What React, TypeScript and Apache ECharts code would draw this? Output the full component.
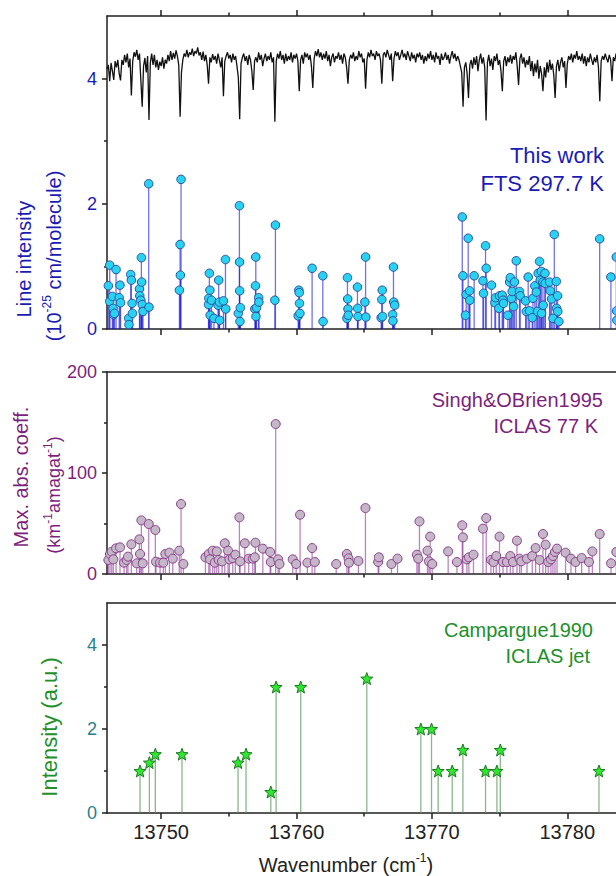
import React, { useEffect, useRef } from "react";
import * as echarts from "echarts";

// Wavenumber axis shared by the three panels (cm-1)
const WN_MIN = 13746;
const WN_MAX = 13785;
const wnMajorTicks = [13750, 13760, 13770, 13780];
const wnMinorTicks = [13755, 13765, 13775];

const ftsMajorTicks = [0, 2, 4];
const ftsMinorTicks = [1, 3];
const singhMajorTicks = [0, 100, 200];
const singhMinorTicks = [50, 150];
const jetMajorTicks = [0, 2, 4];
const jetMinorTicks = [1, 3];

// FTS spectrum (offset trace), sampled every 0.1 cm-1 from traceStart
const traceStart = 13746.0;
const traceStep = 0.1;
const traceValues = [
  4.15, 4.22, 3.96, 4.25, 4.12, 3.98, 4.28, 4.18, 4.30, 4.08,
  3.97, 4.30, 4.22, 4.38, 4.26, 4.40, 4.18, 4.32, 3.73, 4.28,
  4.42, 4.35, 4.46, 4.30, 4.40, 3.98, 3.55, 4.20, 4.33, 4.10,
  4.36, 3.34, 4.25, 4.40, 4.22, 4.38, 4.18, 4.30, 4.14, 4.27,
  4.20, 4.34, 4.16, 4.30, 4.24, 4.38, 4.28, 4.44, 4.30, 4.41,
  4.32, 4.45, 4.36, 4.22, 3.39, 4.10, 4.30, 4.40, 4.35, 4.46,
  4.34, 4.42, 4.38, 4.48, 4.36, 4.44, 4.40, 4.50, 4.37, 4.42,
  4.30, 4.43, 4.28, 4.38, 4.22, 3.92, 4.34, 4.26, 4.39, 4.30,
  4.36, 4.24, 4.40, 4.30, 4.18, 4.34, 3.72, 4.28, 4.36, 4.42,
  4.32, 4.38, 4.26, 4.40, 4.30, 4.36, 4.20, 4.02, 3.35, 4.24,
  4.34, 4.40, 4.28, 4.36, 4.22, 4.38, 4.30, 4.12, 3.82, 4.28,
  4.34, 4.26, 4.42, 4.30, 4.38, 4.20, 4.32, 4.40, 4.28, 4.36,
  4.30, 4.42, 4.26, 4.34, 3.31, 4.28, 4.40, 4.32, 4.44, 4.30,
  4.38, 4.24, 4.40, 4.28, 4.36, 4.30, 4.42, 4.26, 4.38, 4.32,
  4.40, 4.28, 3.80, 4.30, 4.38, 4.24, 4.42, 4.34, 4.40, 4.30,
  4.38, 4.20, 3.85, 4.32, 4.44, 4.36, 4.47, 4.34, 4.42, 4.30,
  4.40, 4.32, 4.44, 4.28, 4.38, 4.20, 4.34, 4.40, 4.26, 4.36,
  4.32, 4.42, 4.30, 4.38, 4.24, 4.40, 4.34, 4.18, 3.92, 4.30,
  4.38, 4.32, 4.42, 4.28, 4.36, 4.30, 4.44, 4.34, 4.40, 4.26,
  4.32, 3.84, 4.30, 4.42, 4.34, 4.46, 4.36, 4.40, 4.30, 4.44,
  4.36, 4.40, 4.30, 3.92, 4.38, 4.42, 4.34, 4.46, 4.38, 4.30,
  4.40, 3.96, 4.32, 4.44, 4.36, 4.42, 4.30, 4.38, 4.46, 4.34,
  4.40, 4.30, 4.44, 4.36, 4.28, 4.42, 4.32, 4.38, 4.26, 4.40,
  4.34, 4.42, 4.30, 4.38, 4.24, 4.36, 4.28, 4.40, 4.32, 4.44,
  4.30, 4.38, 4.26, 4.42, 4.32, 4.36, 4.22, 4.40, 4.30, 4.34,
  4.42, 4.30, 4.38, 4.24, 4.36, 4.44, 4.32, 4.40, 4.28, 4.36,
  4.30, 4.20, 4.10, 3.55, 4.18, 4.26, 4.08, 3.69, 4.22, 4.30,
  4.16, 4.34, 4.22, 4.36, 4.12, 4.30, 4.40, 4.24, 4.34, 4.18,
  3.33, 4.26, 4.38, 4.20, 4.32, 4.14, 4.36, 4.28, 4.40, 4.22,
  4.30, 4.12, 3.80, 4.28, 4.36, 4.20, 4.34, 4.26, 4.38, 4.24,
  4.36, 4.30, 4.42, 4.20, 3.90, 4.32, 4.40, 4.24, 4.34, 4.18,
  4.30, 4.22, 4.36, 4.12, 4.28, 4.04, 4.24, 4.10, 4.30, 4.00,
  4.20, 4.08, 3.80, 4.18, 4.02, 4.26, 4.10, 4.30, 4.14, 4.24,
  4.06, 3.69, 4.20, 4.30, 4.12, 4.26, 4.34, 4.18, 4.28, 3.85,
  4.24, 4.36, 4.30, 4.40, 4.26, 4.38, 4.32, 4.44, 4.30, 4.36,
  4.28, 4.40, 4.24, 4.36, 4.20, 4.34, 4.26, 4.40, 4.30, 4.22,
  4.34, 4.26, 4.38, 4.18, 3.64, 4.28, 4.36, 4.30, 4.40, 4.32,
  4.26, 4.38, 4.30, 3.96, 4.34, 4.28, 4.40, 4.32, 4.36, 4.26,
];

// This work: FTS line list at 297.7 K (10^-25 cm/molecule)
const ftsWavenumbers = [
  13746.10, 13746.20, 13746.20, 13746.40, 13746.45, 13746.50, 13746.55, 13746.67, 13746.90, 13746.96,
  13747.00, 13747.60, 13747.62, 13747.75, 13747.80, 13747.85, 13747.88, 13748.40, 13748.42, 13748.50,
  13748.54, 13748.56, 13748.60, 13748.66, 13749.08, 13749.10, 13751.35, 13751.40, 13751.42, 13751.47,
  13753.50, 13753.52, 13753.56, 13753.60, 13753.62, 13753.72, 13753.90, 13754.20, 13754.25, 13754.30,
  13754.32, 13754.60, 13754.75, 13754.77, 13755.70, 13755.78, 13755.79, 13755.80, 13755.82, 13755.85,
  13756.92, 13756.97, 13756.99, 13757.00, 13757.05, 13757.20, 13757.22, 13758.40, 13758.44, 13760.12,
  13760.17, 13760.20, 13760.22, 13760.25, 13761.15, 13761.94, 13761.96, 13763.72, 13763.76, 13763.78,
  13763.80, 13763.82, 13764.50, 13764.52, 13764.54, 13765.05, 13765.10, 13765.12, 13766.25, 13766.30,
  13766.33, 13766.35, 13767.10, 13767.12, 13767.16, 13767.18, 13767.25,
  13772.24, 13772.29, 13772.48, 13772.53, 13772.68, 13772.78, 13772.80, 13773.12, 13773.77, 13773.81,
  13773.96, 13774.01, 13774.40, 13774.65, 13774.70, 13774.95, 13774.99, 13775.19, 13775.25, 13775.29,
  13775.61, 13775.74, 13775.79, 13775.88, 13775.93, 13776.03, 13776.10, 13776.23, 13776.47, 13776.52,
  13776.92, 13776.97, 13777.11, 13777.21, 13777.41, 13777.46, 13777.60, 13777.71, 13777.80, 13777.85,
  13777.95, 13778.00, 13778.08, 13778.10, 13778.20, 13778.22, 13778.35, 13778.37, 13778.69, 13778.74,
  13778.84, 13778.94, 13779.04, 13779.19, 13779.21, 13779.28, 13779.30, 13779.38, 13782.39, 13783.22,
  13783.62, 13783.64, 13783.66,
];
const ftsIntensities = [
  0.69, 1.02, 0.44, 0.52, 0.33, 0.23, 0.25, 0.95, 0.50, 0.70,
  0.42, 0.17, 0.07, 0.87, 0.78, 0.41, 0.25, 0.64, 0.53, 0.46,
  1.14, 0.75, 0.39, 0.28, 2.32, 0.35, 0.62, 1.35, 0.86, 2.39,
  0.39, 0.49, 0.89, 0.62, 0.22, 0.46, 0.17, 0.38, 0.78, 0.43,
  0.14, 0.45, 1.11, 0.32, 0.25, 1.97, 1.07, 0.61, 0.12, 0.34,
  0.32, 0.69, 1.15, 0.20, 0.34, 0.50, 0.43, 0.46, 1.66, 0.21,
  0.62, 0.58, 0.41, 0.25, 0.97, 0.85, 0.12, 0.17, 0.82, 0.48,
  0.32, 0.22, 0.67, 0.33, 0.20, 0.43, 1.15, 0.19, 0.18, 0.47,
  0.62, 0.20, 0.23, 0.13, 0.99, 0.43, 0.38,
  1.79, 0.85, 0.22, 0.55, 1.45, 0.61, 0.46, 0.85, 0.77, 0.57,
  1.33, 0.97, 0.70, 0.42, 0.50, 0.33, 0.53, 0.54, 0.46, 0.41,
  0.22, 0.75, 0.82, 0.49, 0.60, 0.36, 0.75, 1.09, 0.60, 0.53,
  0.45, 0.28, 0.83, 0.29, 0.18, 0.49, 0.69, 0.59, 0.28, 0.89,
  1.08, 0.78, 0.92, 0.25, 0.75, 0.38, 0.89, 0.73, 0.75, 0.61,
  0.48, 0.17, 1.51, 0.76, 0.33, 0.53, 0.28, 0.12, 1.44, 0.83,
  1.15, 0.29, 0.14,
];

// Singh & O'Brien 1995: ICLAS at 77 K (km-1 amagat-1)
const singhWavenumbers = [
  13746.10, 13746.22, 13746.35, 13746.47, 13746.67, 13746.96, 13747.26, 13747.45, 13747.55, 13747.80,
  13748.19, 13748.39, 13748.44, 13748.54, 13748.64, 13749.08, 13749.57, 13749.62, 13749.92, 13750.16,
  13750.31, 13750.61, 13750.86, 13751.34, 13751.47, 13751.64, 13753.27, 13753.52, 13753.61, 13753.81,
  13753.96, 13754.11, 13754.25, 13754.50, 13754.70, 13754.94, 13755.04, 13755.29, 13755.48, 13755.78,
  13755.83, 13756.18, 13756.47, 13756.77, 13756.92, 13756.96, 13757.51, 13758.05, 13758.10, 13758.46,
  13758.64, 13758.74, 13759.72, 13759.97, 13760.26, 13760.80, 13761.15, 13761.35, 13762.93, 13763.72,
  13763.84, 13763.87, 13764.57, 13765.09, 13766.03, 13766.08, 13767.01, 13767.46, 13768.89, 13768.99,
  13769.08, 13769.67, 13769.78, 13769.87, 13770.02, 13771.20, 13771.85, 13772.24, 13772.29, 13772.58,
  13772.73, 13773.07, 13773.77, 13774.01, 13774.36, 13774.55, 13774.75, 13774.99, 13775.25, 13775.54,
  13775.79, 13775.99, 13776.28, 13776.47, 13776.60, 13777.02, 13777.41, 13777.66, 13777.95, 13778.20,
  13778.40, 13778.59, 13778.79, 13778.94, 13779.09, 13779.24, 13779.87, 13780.27, 13780.61, 13781.06,
  13781.60, 13781.85, 13782.39, 13783.23, 13783.62,
];
const singhCoefficients = [
  13.9, 19.8, 22.0, 14.5, 25.4, 26.4, 11.2, 13.9, 17.2, 29.4,
  10.6, 34.3, 19.8, 53.1, 10.6, 49.5, 43.6, 12.2, 11.2, 11.2,
  19.8, 21.1, 15.2, 23.1, 69.3, 9.9, 16.5, 19.8, 14.5, 23.1,
  11.2, 22.4, 13.9, 12.5, 30.4, 23.1, 14.5, 15.8, 19.1, 56.1,
  12.5, 30.4, 15.2, 15.2, 16.5, 31.0, 25.1, 21.8, 11.9, 148.5,
  14.5, 9.9, 14.5, 9.9, 58.7, 11.2, 25.7, 11.9, 9.9, 19.8,
  15.5, 11.2, 12.9, 65.3, 11.9, 16.5, 9.9, 15.2, 19.1, 15.2,
  52.1, 23.1, 12.5, 37.0, 9.9, 22.4, 11.9, 48.2, 36.3, 14.5,
  16.5, 19.1, 44.9, 55.4, 13.9, 11.9, 17.8, 37.0, 11.9, 11.9,
  17.8, 11.9, 33.0, 15.2, 12.5, 15.2, 17.8, 25.7, 13.9, 39.6,
  29.0, 11.9, 14.5, 17.8, 21.8, 25.1, 21.1, 15.2, 11.9, 15.8,
  11.9, 22.4, 39.6, 10.6, 21.8,
];

// Campargue 1990: ICLAS jet-cooled lines (a.u.)
const jetWavenumbers = [
  13748.44, 13749.13, 13749.57, 13751.54, 13755.68, 13756.27, 13758.10, 13758.49, 13760.31, 13765.19,
  13769.18, 13769.97, 13770.46, 13771.50, 13772.29, 13773.96, 13774.80, 13775.05, 13782.34,
];
const jetIntensities = [
  1.0, 1.2, 1.4, 1.4, 1.2, 1.4, 0.5, 3.0, 3.0, 3.2,
  2.0, 2.0, 1.0, 1.0, 1.5, 1.0, 1.0, 1.5, 1.0,
];

const FONT = '"Liberation Sans", Arial, Helvetica, sans-serif';
const AXIS_COLOR = "#1f1f1f";
const BLUE = "#1b1bb3";
const PURPLE = "#7d1f7d";
const GREEN = "#21902a";
const TEAL = "#2a7f8c";

const STAR =
  "path://M12,0.8 L14.9,8.6 L23.2,8.9 L16.7,14.1 L19,22.2 L12,17.5 L5,22.2 L7.3,14.1 L0.8,8.9 L9.1,8.6 Z";

const pairs = (xs: number[], ys: number[]) => xs.map((x, i) => [x, ys[i]]);

const stemRenderer = (color: string, width: number) => (_params: any, api: any) => {
  const x = api.value(0);
  const y = api.value(1);
  const base = api.coord([x, 0]);
  const top = api.coord([x, y]);
  return {
    type: "line",
    shape: { x1: base[0], y1: base[1], x2: top[0], y2: top[1] },
    style: { stroke: color, lineWidth: width },
  };
};

const axisLineStyle = { color: AXIS_COLOR, width: 1.5 };

const xAxisBase = {
  type: "value",
  min: WN_MIN,
  max: WN_MAX,
  splitLine: { show: false },
  axisLabel: { show: false },
  axisTick: { show: false },
  axisLine: { show: false, onZero: false },
};

function xAxesForGrid(gridIndex: number, withLabels: boolean, topTicks: boolean) {
  const axes: any[] = [
    {
      ...xAxisBase,
      gridIndex,
      position: "bottom",
      axisLine: { show: true, onZero: false, lineStyle: axisLineStyle },
      axisTick: { show: true, inside: false, length: 6, customValues: wnMajorTicks, lineStyle: axisLineStyle },
      axisLabel: withLabels
        ? {
            show: true,
            customValues: wnMajorTicks,
            formatter: (v: number) => String(v),
            fontFamily: FONT,
            fontSize: 20,
            color: "#222",
            margin: 9,
          }
        : { show: false },
    },
    {
      ...xAxisBase,
      gridIndex,
      position: "bottom",
      axisTick: { show: true, inside: false, length: 3.5, customValues: wnMinorTicks, lineStyle: axisLineStyle },
    },
    {
      ...xAxisBase,
      gridIndex,
      position: "top",
      axisLine: { show: true, onZero: false, lineStyle: axisLineStyle },
      axisTick: topTicks
        ? { show: true, inside: false, length: 6, customValues: wnMajorTicks, lineStyle: axisLineStyle }
        : { show: false },
    },
  ];
  if (topTicks) {
    axes.push({
      ...xAxisBase,
      gridIndex,
      position: "top",
      axisTick: { show: true, inside: false, length: 3.5, customValues: wnMinorTicks, lineStyle: axisLineStyle },
    });
  }
  return axes;
}

function yAxesForGrid(
  gridIndex: number,
  max: number,
  major: number[],
  minor: number[],
  labelColor: string,
  fontSize: number
) {
  return [
    {
      type: "value",
      gridIndex,
      position: "left",
      min: 0,
      max,
      splitLine: { show: false },
      axisLine: { show: true, onZero: false, lineStyle: axisLineStyle },
      axisTick: { show: true, inside: false, length: 5, customValues: major, lineStyle: axisLineStyle },
      axisLabel: {
        show: true,
        customValues: major,
        formatter: (v: number) => String(v),
        fontFamily: FONT,
        fontSize,
        color: labelColor,
        margin: 10,
      },
    },
    {
      type: "value",
      gridIndex,
      position: "left",
      min: 0,
      max,
      splitLine: { show: false },
      axisLine: { show: false, onZero: false },
      axisLabel: { show: false },
      axisTick: { show: true, inside: false, length: 3, customValues: minor, lineStyle: axisLineStyle },
    },
  ];
}

// Text with superscripts: every run carries its own size so nothing falls back to defaults.
function richLabel(
  x: number,
  y: number,
  text: string,
  color: string,
  fontSize: number,
  supSize: number,
  rotated: boolean
) {
  return {
    type: "text",
    x,
    y,
    rotation: rotated ? Math.PI / 2 : 0,
    style: {
      text,
      fill: color,
      fontFamily: FONT,
      fontSize,
      lineHeight: fontSize + 6,
      align: "center",
      verticalAlign: "middle",
      rich: {
        n: { fontSize, fontFamily: FONT, fill: color, lineHeight: fontSize + 6 },
        sup: { fontSize: supSize, fontFamily: FONT, fill: color, verticalAlign: "top", lineHeight: supSize },
      },
    },
  };
}

function noteText(right: number, y: number, text: string, color: string, fontSize: number) {
  return {
    type: "text",
    x: right,
    y,
    style: {
      text,
      fill: color,
      fontFamily: FONT,
      fontSize,
      align: "right",
      verticalAlign: "middle",
    },
  };
}

export default function App() {
  const ref = useRef<HTMLDivElement>(null);

  useEffect(() => {
    if (!ref.current) return;
    const chart = echarts.init(ref.current, null, { renderer: "svg" });

    const traceData = traceValues.map((v, i) => [
      Math.round((traceStart + i * traceStep) * 100) / 100,
      v,
    ]);
    const ftsData = pairs(ftsWavenumbers, ftsIntensities);
    const singhData = pairs(singhWavenumbers, singhCoefficients);
    const jetData = pairs(jetWavenumbers, jetIntensities);

    // x axes: grid 0 -> 0..3, grid 1 -> 4..6, grid 2 -> 7..9
    const xAxes = [
      ...xAxesForGrid(0, false, true),
      ...xAxesForGrid(1, false, false),
      ...xAxesForGrid(2, true, false),
    ];
    // y axes: grid 0 -> 0,1 ; grid 1 -> 2,3 ; grid 2 -> 4,5
    const yAxes = [
      ...yAxesForGrid(0, 5, ftsMajorTicks, ftsMinorTicks, BLUE, 18),
      ...yAxesForGrid(1, 200, singhMajorTicks, singhMinorTicks, PURPLE, 18),
      ...yAxesForGrid(2, 5, jetMajorTicks, jetMinorTicks, TEAL, 18),
    ];

    // The plot area continues past the right edge of the page.
    const gridBase = { left: 107, right: -19, containLabel: false, outerBoundsMode: "none" };

    const option: any = {
      animation: false,
      backgroundColor: "#ffffff",
      grid: [
        { ...gridBase, top: 16, height: 313 },
        { ...gridBase, top: 372, height: 202 },
        { ...gridBase, top: 603, height: 210 },
      ],
      xAxis: xAxes,
      yAxis: yAxes,
      series: [
        {
          name: "FTS spectrum",
          type: "line",
          xAxisIndex: 0,
          yAxisIndex: 0,
          data: traceData,
          showSymbol: false,
          symbol: "none",
          lineStyle: { color: "#111111", width: 1.3 },
        },
        {
          name: "FTS stems",
          type: "custom",
          coordinateSystem: "cartesian2d",
          xAxisIndex: 0,
          yAxisIndex: 0,
          encode: { x: 0, y: 1 },
          data: ftsData,
          renderItem: stemRenderer("rgba(20, 20, 215, 0.6)", 1.3),
        },
        {
          name: "This work",
          type: "scatter",
          xAxisIndex: 0,
          yAxisIndex: 0,
          data: ftsData,
          symbol: "circle",
          symbolSize: 8.5,
          itemStyle: { color: "#28d3f2", borderColor: "#2c4f9e", borderWidth: 1, opacity: 1 },
        },
        {
          name: "Singh stems",
          type: "custom",
          coordinateSystem: "cartesian2d",
          xAxisIndex: 4,
          yAxisIndex: 2,
          encode: { x: 0, y: 1 },
          data: singhData,
          renderItem: stemRenderer("rgba(140, 50, 150, 0.6)", 1.3),
        },
        {
          name: "Singh&OBrien1995",
          type: "scatter",
          xAxisIndex: 4,
          yAxisIndex: 2,
          data: singhData,
          symbol: "circle",
          symbolSize: 9,
          itemStyle: { color: "#c4b8c8", borderColor: "#8c3c8c", borderWidth: 1, opacity: 1 },
        },
        {
          name: "Campargue stems",
          type: "custom",
          coordinateSystem: "cartesian2d",
          xAxisIndex: 7,
          yAxisIndex: 4,
          encode: { x: 0, y: 1 },
          data: jetData,
          renderItem: stemRenderer("rgba(90, 150, 90, 0.7)", 1.3),
        },
        {
          name: "Campargue1990",
          type: "scatter",
          xAxisIndex: 7,
          yAxisIndex: 4,
          data: jetData,
          symbol: STAR,
          symbolSize: 12,
          itemStyle: { color: "#2ee82e", borderColor: "#1d7a22", borderWidth: 1, opacity: 1 },
        },
      ],
      graphic: [
        richLabel(24, 259, "{n|Line intensity}", BLUE, 20, 12, true),
        richLabel(54, 256, "{n|(10}{sup|-25}{n| cm/molecule)}", BLUE, 20, 12, true),
        richLabel(21, 477, "{n|Max. abs. coeff.}", PURPLE, 20, 12, true),
        richLabel(54, 495, "{n|(km}{sup|-1}{n|amagat}{sup|-1}{n|)}", PURPLE, 18, 12, true),
        richLabel(49, 727, "{n|Intensity (a.u.)}", GREEN, 22, 12, true),
        richLabel(346, 865, "{n|Wavenumber (cm}{sup|-1}{n|)}", "#222222", 20, 12, false),
        noteText(604, 155, "This work", BLUE, 22),
        noteText(604, 183, "FTS 297.7 K", BLUE, 22),
        noteText(603, 400, "Singh&OBrien1995", PURPLE, 20),
        noteText(598, 426, "ICLAS 77 K", PURPLE, 20),
        noteText(593, 630, "Campargue1990", GREEN, 20),
        noteText(590, 656, "ICLAS jet", GREEN, 20),
      ],
    };

    chart.setOption(option);
    return () => chart.dispose();
  }, []);

  return (
    <div
      ref={ref}
      style={{ position: "absolute", left: 0, top: 0, width: 616, height: 876, overflow: "hidden" }}
    />
  );
}
